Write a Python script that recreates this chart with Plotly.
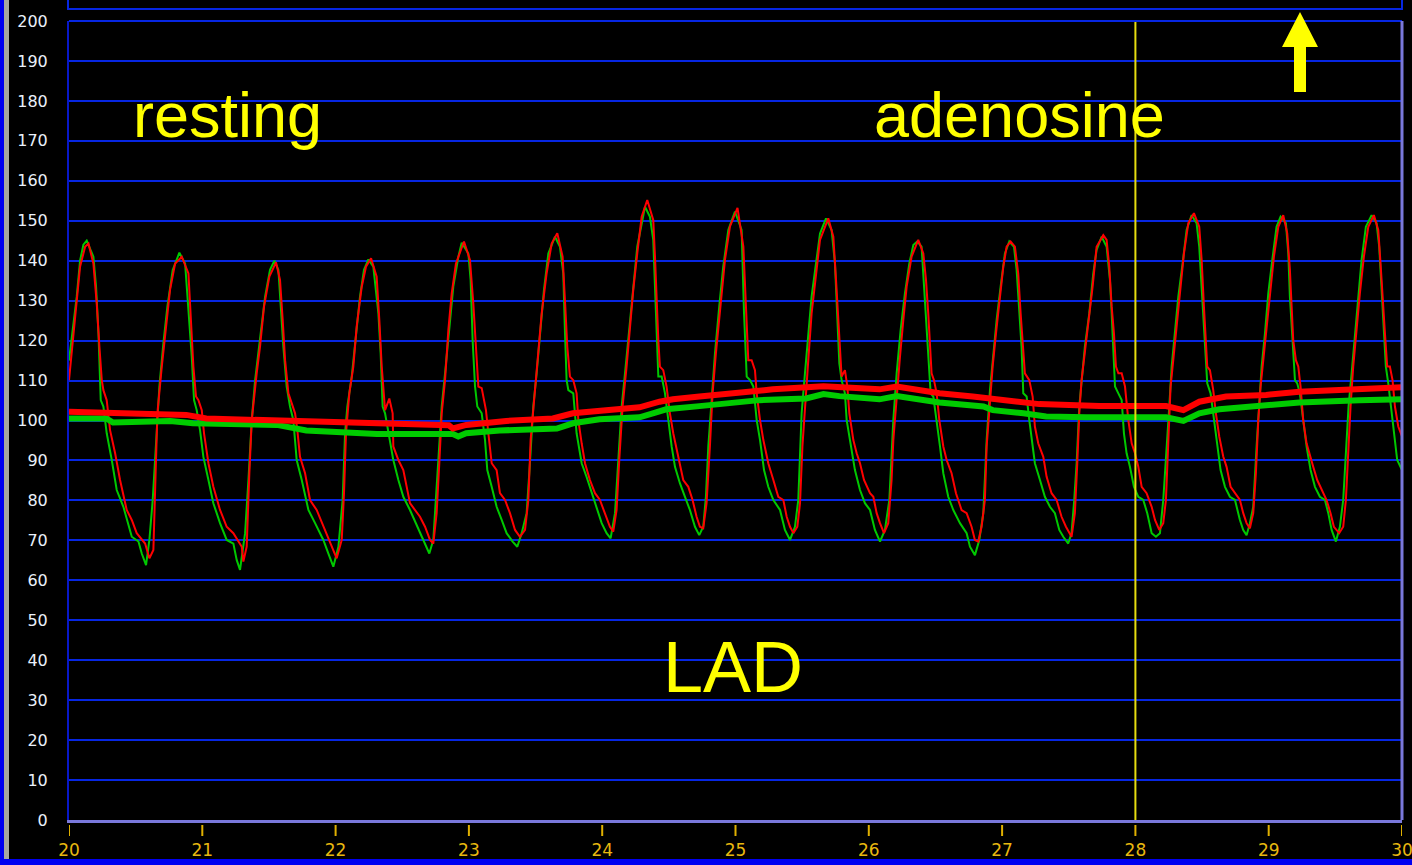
import plotly.graph_objects as go

# ---------------- data ----------------
tick_vals_x = [20, 21, 22, 23, 24, 25, 26, 27, 28, 29, 30]
tick_vals_y = list(range(0, 201, 10))

# aortic pressure (red) waveform: time [s], pressure [mmHg]
red_t = [20.000, 20.033, 20.058, 20.083, 20.121, 20.146, 20.183, 20.208, 20.228, 20.246, 20.258, 20.283, 20.308, 20.346, 20.383, 20.433, 20.471, 20.508, 20.571, 20.603,
         20.633, 20.646, 20.663, 20.696, 20.733, 20.758, 20.796, 20.846, 20.896, 20.913, 20.933, 20.953, 20.971, 20.996, 21.013, 21.046, 21.083, 21.133, 21.183, 21.233, 21.296, 21.308,
         21.333, 21.353, 21.371, 21.408, 21.433, 21.463, 21.503, 21.553, 21.583, 21.603, 21.621, 21.646, 21.671, 21.696, 21.713, 21.733, 21.771, 21.808, 21.858, 21.908, 21.958, 22.008,
         22.046, 22.063, 22.078, 22.103, 22.133, 22.158, 22.196, 22.228, 22.266, 22.308, 22.328, 22.346, 22.371, 22.403, 22.428, 22.433, 22.471, 22.508, 22.558, 22.633, 22.671, 22.708, 22.733,
         22.758, 22.778, 22.796, 22.821, 22.846, 22.871, 22.903, 22.963, 23.008, 23.033, 23.053, 23.071, 23.096, 23.128, 23.146, 23.171, 23.208, 23.233, 23.271, 23.308, 23.346, 23.383,
         23.421, 23.446, 23.463, 23.488, 23.513, 23.546, 23.583, 23.621, 23.663, 23.703, 23.723, 23.738, 23.758, 23.783, 23.808, 23.821, 23.846, 23.871, 23.908, 23.946, 23.983, 24.021, 24.058, 24.083,
         24.108, 24.128, 24.153, 24.183, 24.208, 24.233, 24.263, 24.296, 24.338, 24.383, 24.396, 24.408, 24.421, 24.433, 24.458, 24.483, 24.508, 24.533, 24.571, 24.608, 24.646, 24.678, 24.708, 24.733, 24.758,
         24.783, 24.808, 24.828, 24.853, 24.883, 24.921, 24.958, 25.015, 25.059, 25.071, 25.084, 25.096, 25.121, 25.146, 25.159, 25.184, 25.209, 25.246, 25.284, 25.321, 25.359, 25.384, 25.409, 25.434,
         25.464, 25.484, 25.502, 25.521, 25.546, 25.571, 25.604, 25.634, 25.696, 25.734, 25.754, 25.771, 25.784, 25.796, 25.821, 25.839, 25.854, 25.884, 25.909, 25.934, 25.964, 26.009, 26.034, 26.059, 26.084, 26.114,
         26.146, 26.171, 26.184, 26.209, 26.234, 26.259, 26.284, 26.321, 26.371, 26.409, 26.429, 26.446, 26.459, 26.471, 26.489, 26.509, 26.529, 26.559, 26.584, 26.621, 26.654, 26.696, 26.734, 26.771, 26.796, 26.821,
         26.846, 26.871, 26.884, 26.909, 26.929, 26.954, 26.979, 27.009, 27.034, 27.064, 27.096, 27.121, 27.139, 27.154, 27.171, 27.204, 27.229, 27.246, 27.271, 27.309, 27.334, 27.371, 27.409, 27.446, 27.479, 27.521,
         27.546, 27.564, 27.579, 27.596, 27.621, 27.646, 27.679, 27.709, 27.759, 27.784, 27.804, 27.822, 27.839, 27.854, 27.872, 27.897, 27.922, 27.947, 27.972, 27.997, 28.022, 28.047, 28.084, 28.122, 28.147, 28.179,
         28.209, 28.229, 28.247, 28.264, 28.284, 28.309, 28.334, 28.364, 28.397, 28.439, 28.479, 28.497, 28.514, 28.529, 28.539, 28.559, 28.584, 28.604, 28.629, 28.659, 28.684, 28.714, 28.747, 28.784, 28.809, 28.834, 28.859,
         28.884, 28.904, 28.922, 28.939, 28.959, 28.984, 29.009, 29.039, 29.072, 29.109, 29.139, 29.159, 29.172, 29.184, 29.204, 29.222, 29.239, 29.259, 29.284, 29.309, 29.334, 29.364, 29.397, 29.434, 29.464, 29.489, 29.529,
         29.559, 29.579, 29.597, 29.614, 29.634, 29.659, 29.684, 29.714, 29.747, 29.789, 29.822, 29.839, 29.854, 29.872, 29.889, 29.909, 29.929, 29.947, 29.972, 30.000]
red_v = [110.1, 121.8, 130.2, 138.5, 143.5, 144.3, 139.3, 129.3, 118.5, 110.1, 107.6, 105.1, 97.6, 91.8, 85.1, 77.6, 75.1, 71.8, 69.2, 65.5,
         67.6, 85.1, 101.8, 113.5, 124.3, 132.7, 139.3, 141.0, 136.8, 126.8, 113.5, 106.0, 105.1, 102.6, 96.8, 89.3, 83.4, 77.6, 73.4, 71.8, 68.4, 64.7,
         68.4, 86.8, 100.1, 111.8, 118.5, 128.5, 136.0, 139.6, 135.2, 125.2, 115.1, 106.8, 104.3, 101.8, 97.6, 90.9, 86.8, 80.1, 77.6, 73.4, 69.2, 65.5,
         70.1, 81.8, 96.8, 106.8, 113.5, 123.5, 133.5, 138.5, 140.6, 136.0, 125.2, 113.5, 102.6, 105.5, 101.8, 93.5, 90.1, 87.6, 79.3, 75.9, 73.4, 70.1, 69.2,
         76.8, 89.3, 101.8, 110.1, 122.7, 131.8, 139.3, 144.8, 140.2, 129.3, 116.8, 108.5, 108.1, 102.6, 96.8, 89.3, 87.6, 81.8, 80.1, 76.8, 72.6, 70.9,
         72.6, 80.1, 95.1, 105.1, 115.1, 126.8, 136.8, 144.3, 146.9, 141.0, 128.5, 118.5, 111.0, 110.1, 106.8, 100.1, 94.3, 89.3, 85.1, 81.8, 80.1, 76.8, 73.4, 72.2,
         77.6, 90.1, 103.5, 113.5, 124.3, 132.7, 141.8, 151.0, 155.2, 150.2, 141.0, 130.2, 120.1, 113.5, 112.6, 108.5, 101.8, 96.8, 90.9, 85.1, 83.4, 80.1, 75.9, 73.4, 73.0,
         79.3, 93.5, 106.8, 116.8, 126.8, 140.2, 148.5, 153.2, 143.5, 135.2, 122.7, 115.1, 115.1, 112.6, 106.8, 100.1, 95.1, 89.3, 85.1, 80.9, 80.1, 75.9, 73.4, 71.8,
         73.4, 79.3, 93.5, 103.5, 115.1, 126.8, 136.8, 145.2, 150.6, 146.0, 135.2, 124.3, 115.1, 111.0, 112.6, 108.5, 101.8, 95.1, 91.8, 89.3, 85.1, 81.8, 80.9, 76.8, 74.3, 71.8,
         74.3, 85.1, 95.1, 106.8, 116.0, 125.2, 133.5, 141.0, 145.2, 141.8, 135.2, 126.8, 120.1, 111.8, 110.1, 106.8, 100.1, 93.5, 90.1, 86.8, 81.8, 77.6, 76.8, 73.4, 70.1, 69.7,
         73.4, 80.1, 93.5, 105.1, 113.5, 121.8, 130.2, 138.5, 143.5, 144.8, 143.5, 136.8, 126.8, 118.5, 111.8, 110.1, 106.0, 98.5, 94.3, 90.9, 85.9, 81.8, 80.1, 75.9, 73.4, 70.9,
         76.8, 89.3, 101.8, 110.1, 116.8, 124.3, 133.5, 143.5, 146.4, 145.2, 138.5, 128.5, 121.8, 113.5, 111.8, 111.8, 108.5, 100.1, 94.3, 91.8, 88.4, 83.4, 81.8, 78.4, 75.1, 72.6,
         74.3, 80.1, 95.1, 108.5, 115.1, 123.5, 132.7, 141.8, 149.4, 151.9, 148.5, 140.2, 128.5, 120.1, 113.5, 112.6, 107.6, 101.8, 96.0, 91.0, 88.4, 83.4, 81.8, 80.1, 76.8, 74.3, 73.0,
         76.8, 86.8, 100.1, 108.5, 115.1, 123.5, 131.8, 141.0, 148.5, 151.4, 146.9, 137.7, 128.5, 120.1, 115.1, 113.5, 108.5, 100.1, 94.3, 91.0, 88.4, 85.1, 82.6, 80.1, 76.8, 73.4, 71.8,
         73.4, 80.1, 93.5, 103.5, 113.5, 123.5, 131.8, 141.0, 148.5, 151.4, 147.7, 139.3, 130.2, 121.8, 113.5, 113.5, 110.1, 103.5, 98.5, 96.0]

# distal coronary pressure (green) waveform
green_t = [20.000, 20.033, 20.058, 20.083, 20.108, 20.133, 20.183, 20.203, 20.221, 20.233, 20.238, 20.258, 20.283, 20.321, 20.358, 20.408, 20.471, 20.521, 20.546, 20.578,
           20.603, 20.628, 20.653, 20.678, 20.708, 20.738, 20.778, 20.828, 20.871, 20.896, 20.921, 20.938, 20.958, 20.983, 21.008, 21.046, 21.083, 21.133, 21.183, 21.233, 21.258, 21.283,
           21.321, 21.346, 21.371, 21.396, 21.433, 21.471, 21.508, 21.541, 21.571, 21.588, 21.608, 21.633, 21.658, 21.683, 21.708, 21.746, 21.796, 21.846, 21.908, 21.946, 21.983,
           22.021, 22.053, 22.071, 22.088, 22.121, 22.153, 22.183, 22.213, 22.246, 22.283, 22.321, 22.338, 22.353, 22.371, 22.408, 22.433, 22.471, 22.508, 22.558, 22.633, 22.671, 22.703,
           22.733, 22.758, 22.778, 22.796, 22.821, 22.853, 22.883, 22.921, 22.946, 22.996, 23.013, 23.028, 23.046, 23.063, 23.096, 23.121, 23.138, 23.171, 23.208, 23.246, 23.283, 23.328, 23.363,
           23.396, 23.433, 23.458, 23.483, 23.508, 23.533, 23.563, 23.596, 23.646, 23.683, 23.708, 23.721, 23.733, 23.746, 23.783, 23.808, 23.846, 23.883, 23.921, 23.958, 23.996, 24.033, 24.063,
           24.096, 24.121, 24.146, 24.171, 24.203, 24.233, 24.263, 24.321, 24.358, 24.383, 24.396, 24.408, 24.421, 24.446, 24.471, 24.496, 24.521, 24.546, 24.583, 24.621, 24.658, 24.696, 24.728,
           24.758, 24.778, 24.796, 24.821, 24.846, 24.878, 24.908, 24.946, 24.996, 25.046, 25.064, 25.084, 25.109, 25.134, 25.159, 25.184, 25.214, 25.246, 25.284, 25.334, 25.371, 25.409,
           25.446, 25.471, 25.496, 25.521, 25.546, 25.571, 25.604, 25.634, 25.679, 25.721, 25.746, 25.764, 25.779, 25.796, 25.821, 25.834, 25.859, 25.896, 25.934, 25.971, 26.009, 26.046, 26.084,
           26.121, 26.154, 26.184, 26.209, 26.239, 26.271, 26.304, 26.334, 26.364, 26.396, 26.409, 26.429, 26.454, 26.464, 26.484, 26.509, 26.534, 26.559, 26.596, 26.634, 26.684, 26.734, 26.759, 26.796,
           26.829, 26.859, 26.884, 26.909, 26.934, 26.959, 26.989, 27.021, 27.054, 27.089, 27.109, 27.129, 27.146, 27.159, 27.184, 27.204, 27.221, 27.246, 27.284, 27.321, 27.359, 27.396, 27.429, 27.459, 27.496,
           27.521, 27.541, 27.559, 27.579, 27.596, 27.621, 27.654, 27.684, 27.709, 27.747, 27.784, 27.809, 27.822, 27.834, 27.847, 27.872, 27.897, 27.914, 27.934, 27.959, 27.989, 28.022, 28.059, 28.089, 28.122, 28.154,
           28.184, 28.209, 28.234, 28.254, 28.272, 28.297, 28.322, 28.354, 28.384, 28.422, 28.459, 28.479, 28.497, 28.514, 28.529, 28.539, 28.564, 28.589, 28.614, 28.639, 28.672, 28.709, 28.747, 28.784, 28.809, 28.834,
           28.859, 28.884, 28.909, 28.929, 28.947, 28.972, 28.997, 29.027, 29.059, 29.089, 29.129, 29.147, 29.159, 29.179, 29.197, 29.214, 29.234, 29.259, 29.284, 29.314, 29.347, 29.384, 29.422, 29.447, 29.472, 29.504,
           29.534, 29.559, 29.579, 29.599, 29.622, 29.647, 29.672, 29.697, 29.729, 29.772, 29.809, 29.829, 29.847, 29.864, 29.879, 29.897, 29.922, 29.939, 29.964, 30.000]
green_v = [115.0, 123.5, 131.0, 140.0, 144.0, 145.0, 141.0, 133.5, 121.8, 110.1, 105.1, 103.5, 96.8, 90.1, 82.6, 78.4, 70.9, 69.7, 66.7, 63.8,
           70.1, 80.1, 93.5, 108.5, 119.3, 128.5, 137.7, 142.0, 139.3, 128.5, 116.0, 105.1, 102.6, 97.6, 90.9, 85.1, 79.3, 74.3, 70.1, 69.2, 65.1, 62.6,
           71.8, 85.1, 100.1, 110.1, 121.0, 131.0, 137.7, 140.0, 137.7, 128.5, 118.5, 108.5, 103.5, 100.1, 90.1, 85.1, 77.6, 74.3, 70.1, 66.7, 63.4,
           68.4, 80.1, 96.8, 103.5, 111.0, 121.8, 131.0, 137.7, 140.3, 138.5, 126.8, 116.8, 103.5, 101.8, 95.1, 90.1, 85.1, 80.9, 77.6, 71.8, 69.2, 66.7,
           70.1, 82.6, 93.5, 103.5, 111.8, 123.5, 133.5, 141.0, 144.5, 141.8, 135.2, 120.1, 108.5, 103.5, 101.8, 95.1, 87.6, 83.4, 78.4, 75.1, 71.8, 69.7, 68.4,
           71.8, 76.8, 89.3, 103.5, 111.8, 121.8, 132.7, 141.8, 146.0, 143.5, 136.8, 121.8, 110.1, 107.6, 106.8, 96.8, 89.3, 85.9, 81.8, 78.4, 74.3, 71.8, 70.5,
           76.8, 90.9, 103.5, 111.8, 123.5, 133.5, 143.5, 153.5, 151.0, 145.2, 135.2, 122.7, 111.0, 111.0, 106.8, 100.1, 93.5, 88.4, 84.3, 80.9, 77.6, 73.4, 71.3,
           73.4, 80.9, 93.5, 105.9, 116.8, 128.5, 138.5, 147.7, 152.3, 147.7, 126.8, 111.0, 110.1, 108.5, 100.1, 95.1, 87.6, 83.4, 80.1, 77.6, 72.6, 70.1,
           73.4, 80.1, 101.8, 111.8, 121.0, 131.0, 139.3, 146.8, 150.6, 147.7, 139.3, 126.8, 114.3, 110.1, 106.8, 100.1, 95.1, 87.6, 82.6, 79.3, 77.6, 72.6, 69.7,
           72.6, 80.1, 100.1, 111.8, 122.7, 131.8, 139.3, 143.9, 144.8, 143.5, 136.8, 126.8, 114.3, 106.8, 106.0, 100.1, 93.5, 86.8, 80.9, 77.6, 74.3, 71.8, 68.4, 66.3,
           70.1, 76.8, 95.1, 107.6, 116.8, 125.2, 133.5, 141.8, 144.8, 143.5, 137.7, 128.5, 118.5, 106.8, 106.0, 100.1, 95.1, 89.3, 85.1, 80.9, 78.4, 76.8, 72.6, 70.9, 69.2,
           71.8, 80.1, 89.3, 103.5, 110.1, 118.5, 126.8, 136.8, 142.7, 146.0, 143.5, 135.2, 126.8, 118.5, 108.5, 106.8, 105.1, 96.8, 91.8, 88.4, 83.4, 80.9, 80.1, 76.8, 71.8, 70.9,
           71.8, 80.1, 91.8, 103.5, 113.5, 121.8, 131.0, 139.3, 147.7, 151.4, 149.4, 143.5, 133.5, 122.7, 113.5, 109.3, 106.8, 100.1, 93.5, 87.6, 83.4, 80.9, 80.1, 75.1, 72.6, 71.3,
           74.3, 78.4, 93.5, 105.1, 113.5, 121.8, 131.8, 140.2, 148.5, 151.0, 149.4, 141.8, 131.0, 120.1, 110.1, 109.3, 106.8, 100.1, 93.5, 87.6, 83.4, 80.9, 80.1, 76.8, 72.6, 69.7,
           73.4, 80.1, 91.8, 103.5, 111.8, 121.8, 131.8, 140.2, 148.5, 151.4, 149.4, 143.5, 132.7, 122.7, 113.5, 109.3, 101.8, 96.8, 90.1, 87.6]

# running means
red_mean_t = [20.0, 20.33, 20.88, 21.03, 21.68, 22.01, 22.63, 22.85, 22.88, 22.98, 23.28, 23.63, 23.78, 24.03, 24.28, 24.43, 24.53, 24.73, 24.98, 25.18,
              25.28, 25.66, 25.83, 26.08, 26.21, 26.33, 26.53, 26.78, 27.03, 27.28, 27.73, 28.23, 28.36, 28.48, 28.68, 28.98, 29.23, 29.68, 30.0]
red_mean_v = [102.2, 101.8, 101.4, 100.5, 99.9, 99.3, 98.9, 98.8, 98.0, 98.9, 99.9, 100.5, 101.8, 102.6, 103.3, 104.7, 105.3, 106.0, 106.8, 107.5,
              107.8, 108.6, 108.3, 107.8, 108.5, 107.8, 106.8, 106.0, 105.1, 104.1, 103.6, 103.6, 102.6, 104.7, 106.0, 106.4, 107.2, 108.0, 108.3]
green_mean_t = [20.0, 20.28, 20.33, 20.76, 20.93, 21.56, 21.78, 22.31, 22.88, 22.92, 22.98, 23.23, 23.66, 23.78, 23.98, 24.28, 24.38, 24.48, 24.73, 24.98,
                25.18, 25.53, 25.66, 25.78, 26.08, 26.21, 26.38, 26.53, 26.86, 26.93, 27.16, 27.33, 27.63, 28.23, 28.36, 28.48, 28.63, 28.93, 29.23, 29.68, 30.0]
green_mean_v = [100.5, 100.5, 99.5, 99.9, 99.3, 98.9, 97.5, 96.6, 96.6, 96.0, 96.8, 97.5, 98.0, 99.3, 100.3, 100.8, 101.8, 102.8, 103.6, 104.3,
                105.1, 105.5, 106.6, 106.1, 105.3, 106.1, 105.1, 104.5, 103.5, 102.6, 101.8, 101.0, 100.8, 100.8, 99.9, 101.8, 102.8, 103.5, 104.5, 105.1, 105.3]

marker_time = 28
labels = [("resting", 21.19, 176.5, 63), ("adenosine", 27.13, 176.5, 63), ("LAD", 24.98, 38.3, 72)]

# ---------------- figure ----------------
W, H = 1412, 865
ML, MR, MT, MB = 69, 10, 21, 45
GRID = "#0626e2"
LAV = "#7a78dc"
YEL = "#ffff00"

fig = go.Figure()
fig.add_trace(go.Scatter(x=green_t, y=green_v, mode="lines", line=dict(color="#00c800", width=2), hoverinfo="skip"))
fig.add_trace(go.Scatter(x=red_t, y=red_v, mode="lines", line=dict(color="#ff0000", width=2), hoverinfo="skip"))
fig.add_trace(go.Scatter(x=green_mean_t, y=green_mean_v, mode="lines", line=dict(color="#00cc00", width=6), hoverinfo="skip"))
fig.add_trace(go.Scatter(x=red_mean_t, y=red_mean_v, mode="lines", line=dict(color="#ff0000", width=6), hoverinfo="skip"))

pw, ph = W - ML - MR, H - MT - MB
def px(xp):
    return (xp - ML) / pw
def py(yp):
    return (H - MB - yp) / ph

shapes = []
# vertical marker line
shapes.append(dict(type="line", xref="x", yref="paper", x0=marker_time, x1=marker_time, y0=0, y1=1,
                   line=dict(color="#e6dc10", width=2), layer="above"))
# top border (grid at 200) and right border
shapes.append(dict(type="line", xref="paper", yref="paper", x0=0, x1=1, y0=1, y1=1, line=dict(color=GRID, width=2)))
shapes.append(dict(type="line", xref="paper", yref="paper", x0=1, x1=1, y0=0, y1=1, line=dict(color=LAV, width=3)))
# panel edge above the plot
shapes.append(dict(type="rect", xref="paper", yref="paper", x0=px(68), x1=px(1402), y0=py(9), y1=py(-10),
                   line=dict(color=GRID, width=2)))
# yellow arrow
path = (f"M {px(1294)},{py(92)} L {px(1306)},{py(92)} L {px(1306)},{py(47)} L {px(1318)},{py(47)} "
        f"L {px(1300)},{py(12)} L {px(1282)},{py(47)} L {px(1294)},{py(47)} Z")
shapes.append(dict(type="path", xref="paper", yref="paper", path=path, fillcolor=YEL, line=dict(width=0)))
# window frame stripes
shapes.append(dict(type="rect", xref="paper", yref="paper", x0=px(0), x1=px(4), y0=py(866), y1=py(-2),
                   fillcolor="#0000f0", line=dict(width=0)))
shapes.append(dict(type="rect", xref="paper", yref="paper", x0=px(4), x1=px(9), y0=py(859), y1=py(-2),
                   fillcolor="#a8a8a0", line=dict(width=0)))
shapes.append(dict(type="rect", xref="paper", yref="paper", x0=px(4), x1=px(1413), y0=py(866), y1=py(859),
                   fillcolor="#0000f0", line=dict(width=0)))
# x tick marks (offset below the axis)
for tv in tick_vals_x:
    shapes.append(dict(type="line", xref="x", yref="paper", x0=tv, x1=tv, y0=py(825), y1=py(836),
                       line=dict(color="#e0b000", width=2)))

annotations = []
for txt, ax, ay, fs in labels:
    annotations.append(dict(x=ax, y=ay, xref="x", yref="y", text=txt, showarrow=False,
                            font=dict(family="Liberation Sans, Arial, sans-serif", size=fs, color=YEL),
                            xanchor="center", yanchor="middle"))

fig.update_layout(
    width=W, height=H,
    margin=dict(l=ML, r=MR, t=MT, b=MB, pad=0, autoexpand=False),
    paper_bgcolor="black", plot_bgcolor="black",
    showlegend=False,
    shapes=shapes, annotations=annotations,
    xaxis=dict(range=[20, 30], tickvals=tick_vals_x, ticktext=[str(v) for v in tick_vals_x],
               showgrid=False, zeroline=False, showline=True, linecolor=LAV, linewidth=3,
               ticks="", ticklabelstandoff=13, automargin=False, ticklabeloverflow="allow",
               tickfont=dict(family="DejaVu Sans", size=17, color="#e8b810")),
    yaxis=dict(range=[0, 200], tickvals=tick_vals_y, ticktext=[str(v) for v in tick_vals_y],
               showgrid=True, gridcolor=GRID, gridwidth=2, zeroline=False,
               showline=True, linecolor="#0818c8", linewidth=2,
               ticks="", ticklabelstandoff=16, automargin=False,
               tickfont=dict(family="DejaVu Sans", size=16, color="#eaf0fa")),
)

fig.write_html("out.html")
